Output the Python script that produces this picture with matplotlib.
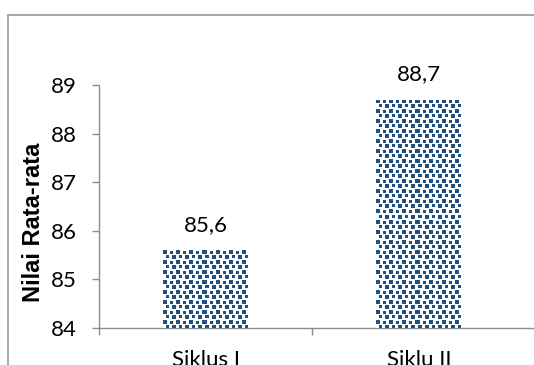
import numpy as np
import matplotlib
matplotlib.use("Agg")
from matplotlib import pyplot as plt
from matplotlib.lines import Line2D

# data
categories = ["Siklus I", "Siklu II"]
values = [85.6, 88.7]
value_labels = ["85,6", "88,7"]
y_ticks = [84, 85, 86, 87, 88, 89]

BLUE = np.array([0x1F, 0x50, 0x80]) / 255.0
GRID = "#8c8c8c"


def confetti(ny, nx):
    # repeating tile of squares, like the office "confetti" fill
    tile = np.ones((10, 13))
    tile[0:4, 0:4] = 0
    tile[1:4, 7:10] = 0
    tile[5:8, 3:6] = 0
    tile[5:9, 9:13] = 0
    reps = (ny // 10 + 2, nx // 13 + 2)
    big = np.tile(tile, reps)[:ny, :nx]
    rgb = np.ones((ny, nx, 3))
    rgb[big == 0] = BLUE
    return rgb


def draw():
    fig = plt.figure(figsize=(5.34, 3.65), dpi=100)
    ax = fig.add_axes([99 / 534, 37 / 365, 1 - 99 / 534, 243 / 365])

    x = np.arange(len(categories))
    ax.set_xlim(-0.502, 1.54)
    ax.set_ylim(84, 89)

    bars = ax.bar(x, [v - 84 for v in values], bottom=84, width=0.4,
                  color="white", edgecolor="none", zorder=2)

    # pattern fill, clipped to each bar
    for b in bars:
        x0, y0 = b.get_x(), b.get_y()
        x1, y1 = x0 + b.get_width(), y0 + b.get_height()
        p0 = ax.transData.transform((x0, y0))
        p1 = ax.transData.transform((x1, y1))
        nx = int(round(abs(p1[0] - p0[0])))
        ny = int(round(abs(p1[1] - p0[1])))
        im = ax.imshow(confetti(ny, nx), extent=(x0, x1, y0, y1),
                       origin="upper", aspect="auto",
                       interpolation="nearest", zorder=3)
        im.set_clip_path(b)
    ax.set_xlim(-0.502, 1.54)
    ax.set_ylim(84, 89)

    for xi, v, lab in zip(x, values, value_labels):
        ax.annotate(lab, (xi, v), xytext=(0, 11), textcoords="offset points",
                    ha="center", va="bottom", fontsize=16, family="Lato")

    ax.set_yticks(y_ticks)
    ax.set_yticklabels([str(t) for t in y_ticks], family="Lato", fontsize=16)
    ax.set_xticks([-0.5, 0.5])
    ax.set_xticklabels([])
    ax.set_xticks(x, minor=True)
    ax.set_xticklabels(categories, minor=True, family="Lato", fontsize=16)
    ax.tick_params(axis="x", which="minor", length=0, pad=16)
    ax.tick_params(axis="x", which="major", length=5, color=GRID, width=1)
    ax.tick_params(axis="y", length=5, color=GRID, width=1, pad=11)

    for s in ["top", "right"]:
        ax.spines[s].set_visible(False)
    for s in ["left", "bottom"]:
        ax.spines[s].set_color(GRID)
        ax.spines[s].set_linewidth(1)

    fig.text(34 / 534, 1 - 222 / 365, "Nilai Rata-rata", rotation=90,
             ha="center", va="center", fontsize=17, fontweight="bold",
             family="Liberation Sans")

    # outer chart border (only left and top are in view)
    bx, by = 7.5 / 534, 1 - 14.5 / 365
    fig.add_artist(Line2D([bx, bx], [0, by], color="#999999", lw=1.2))
    fig.add_artist(Line2D([bx, 1], [by, by], color="#999999", lw=1.2))

    fig.savefig("out.png", dpi=100)


draw()
